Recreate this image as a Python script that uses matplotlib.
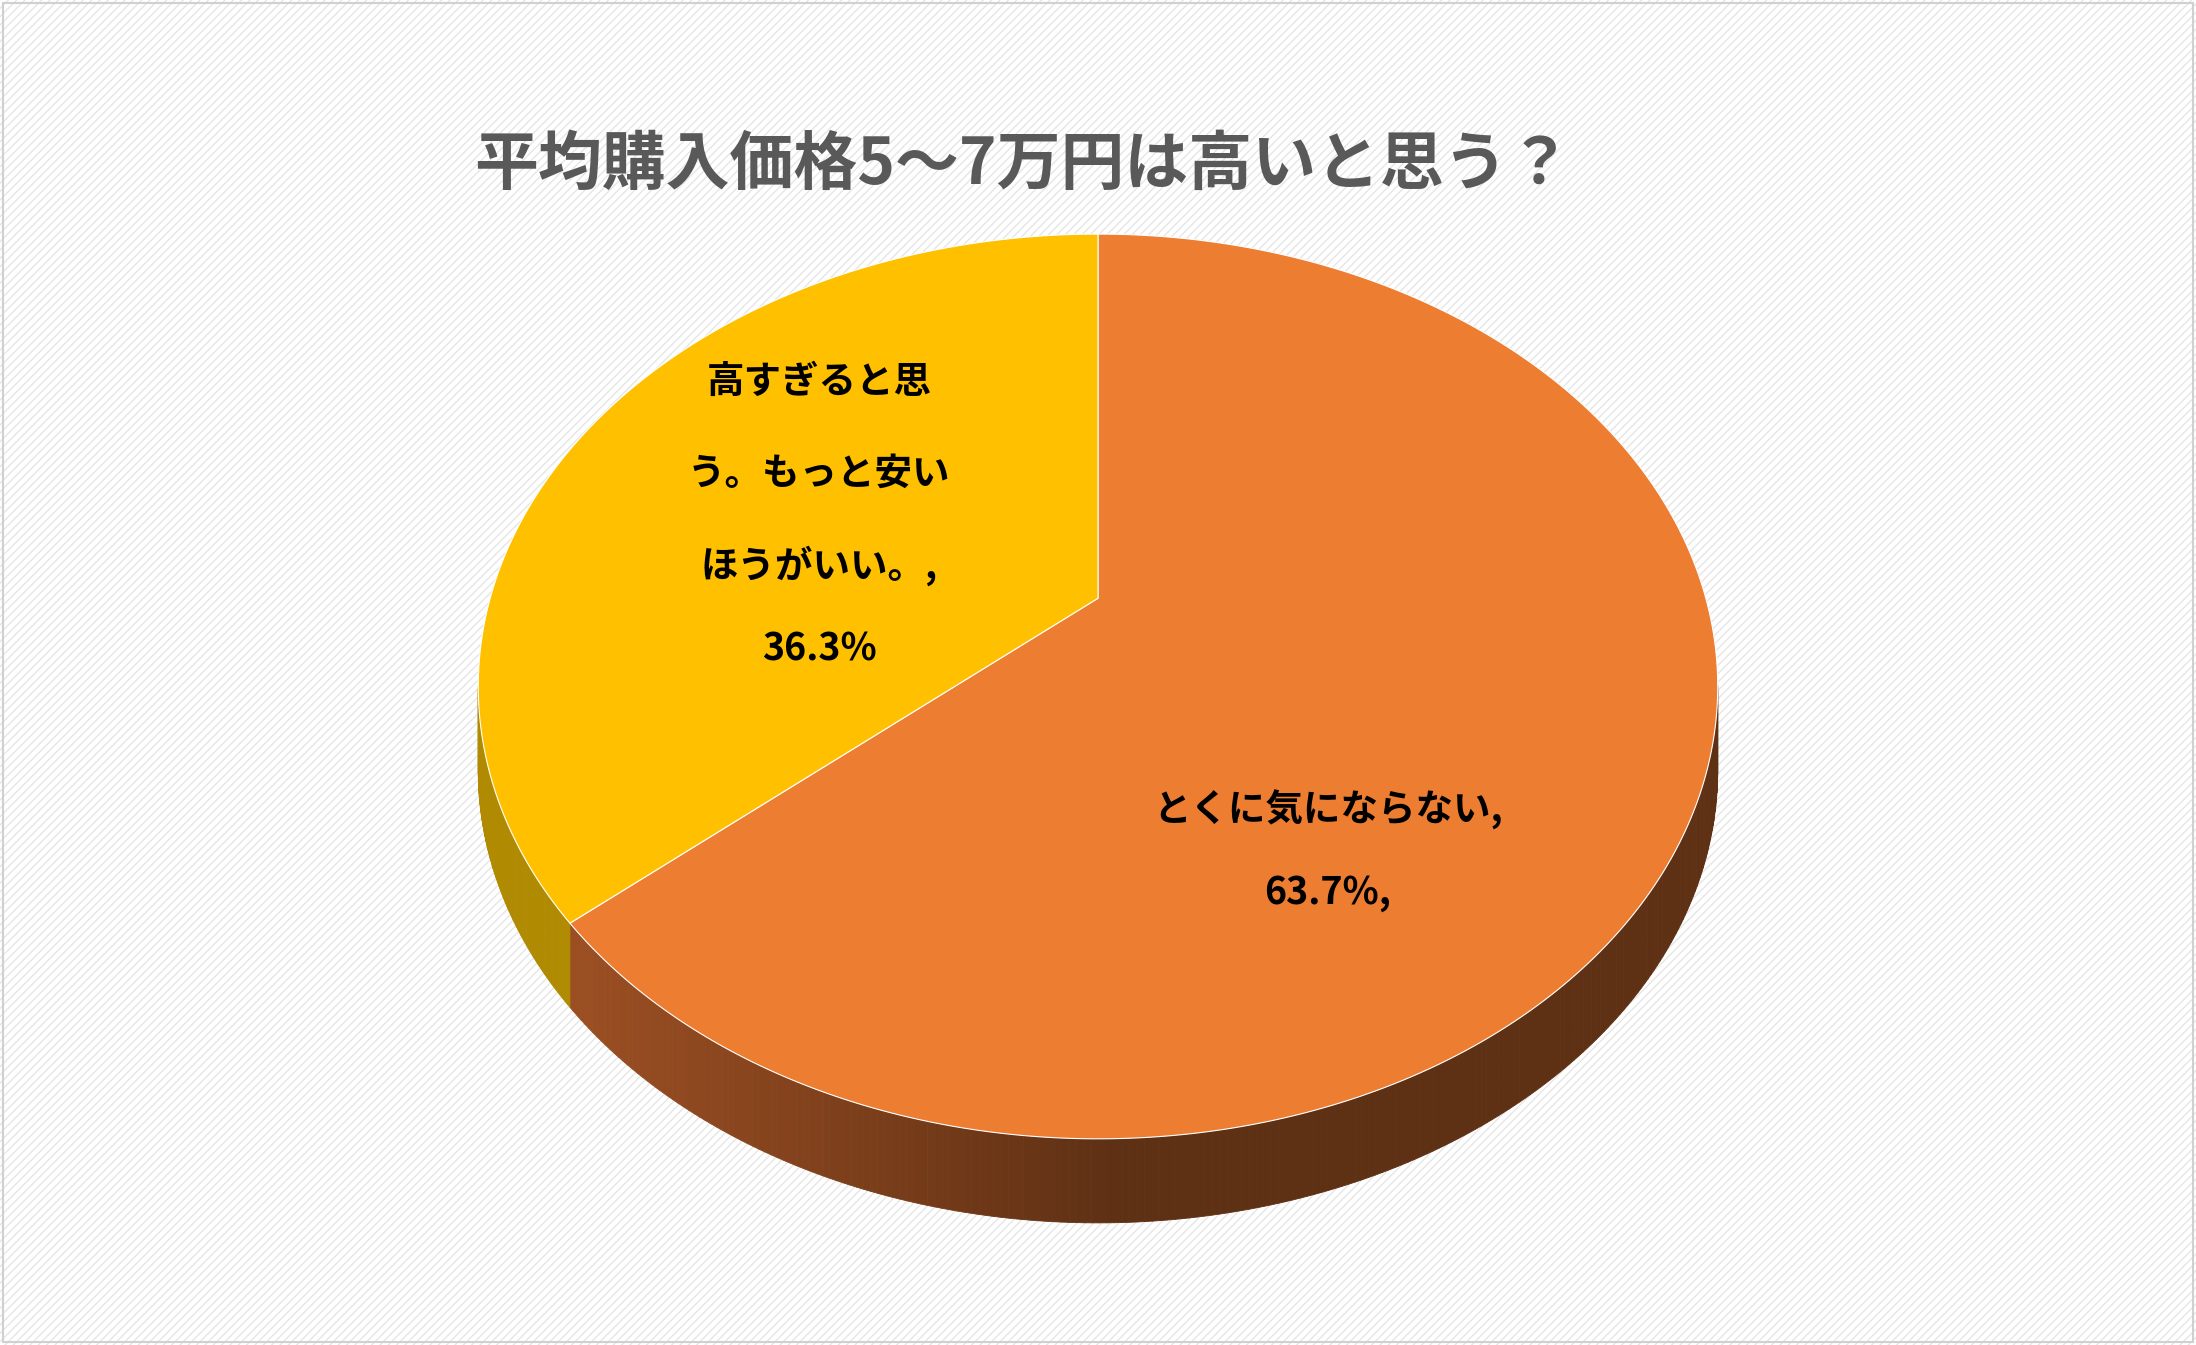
import numpy as np
import matplotlib
matplotlib.use("Agg")
import matplotlib.pyplot as plt
from matplotlib.patches import Polygon, Rectangle

plt.rcParams['font.family'] = ['Noto Sans CJK JP', 'DejaVu Sans']
plt.rcParams['hatch.color'] = '#e6e6e6'
plt.rcParams['hatch.linewidth'] = 1.0

title = "平均購入価格5～7万円は高いと思う？"
categories = ["とくに気にならない", "高すぎると思う。もっと安いほうがいい。"]
values = [63.7, 36.3]
top_colors = ["#ED7D31", "#FFC000"]
side_dark = ["#5E3014", "#8A6A00"]
side_light = ["#9A4E22", "#B08A00"]

W, H = 1568, 960
fig = plt.figure(figsize=(21.96, 13.45), dpi=100)
ax = fig.add_axes([0, 0, 1, 1])
ax.set_xlim(0, W); ax.set_ylim(H, 0); ax.axis('off')
ax.add_patch(Rectangle((0, 0), W, H, facecolor='white', hatch='////', edgecolor='#e6e6e6', lw=0))
ax.add_patch(Rectangle((2, 2), W-4, H-4, facecolor='none', edgecolor='#d0d0d0', lw=1.5))

cx, cy0, A, B, k, depth = 784, 427, 434, 310.6, 0.195, 60

def proj(theta):  # theta measured clockwise from top, radians
    u, w = np.sin(theta), np.cos(theta)
    d = 1 + k * w
    return cx + A * u / d, cy0 - B * w / d

fr = np.array(values) / sum(values)
bounds = np.concatenate([[0], np.cumsum(fr)]) * 2 * np.pi

# side
for i in range(len(values)):
    th = np.linspace(bounds[i], bounds[i+1], 400)
    for a, b in zip(th[:-1], th[1:]):
        if np.cos((a+b)/2) > -k + 0.0 and np.cos((a+b)/2) > -k:
            pass
        if np.cos((a+b)/2) >= -k:
            continue
        x1, y1 = proj(a); x2, y2 = proj(b)
        xm = (x1 + x2) / 2
        t = np.clip((xm - 420) / 380, 0, 1)
        c1 = np.array(matplotlib.colors.to_rgb(side_light[i]))
        c2 = np.array(matplotlib.colors.to_rgb(side_dark[i]))
        col = c1 * (1 - t) + c2 * t
        ax.add_patch(Polygon([(x1, y1), (x2, y2), (x2, y2+depth), (x1, y1+depth)],
                             closed=True, facecolor=col, edgecolor=col, lw=0.6))

# top
for i in range(len(values)):
    th = np.linspace(bounds[i], bounds[i+1], 400)
    pts = [proj(t) for t in th]
    ax.add_patch(Polygon([(cx, cy0)] + pts, closed=True, facecolor=top_colors[i],
                         edgecolor='white', lw=0.8))

ax.text(730, 118, title, ha='center', va='center', fontsize=46, fontweight='bold', color='#595959')

lab_kw = dict(ha='center', va='center', fontsize=27, fontweight='bold', color='black')
for y, s in zip([272, 338, 404, 463], ["高すぎると思", "う。もっと安い", "ほうがいい。,", f"{values[1]}%"]):
    ax.text(585, y, s, **lab_kw)
for y, s in zip([578, 637], [categories[0] + ",", f"{values[0]}%,"]):
    ax.text(948, y, s, **lab_kw)

fig.savefig("out.png", dpi=100)
